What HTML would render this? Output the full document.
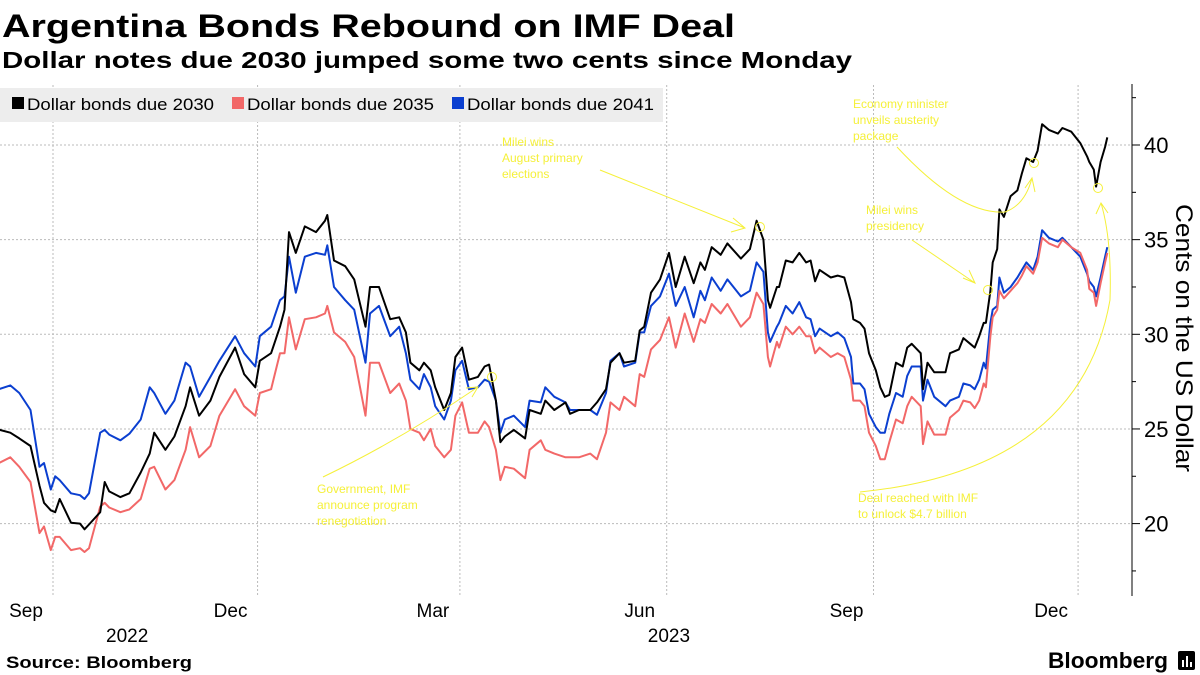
<!DOCTYPE html>
<html><head><meta charset="utf-8"><style>
html,body{margin:0;padding:0;background:#fff;}
svg{display:block;font-family:"Liberation Sans",sans-serif;}
</style></head><body>
<svg id="chart" width="1200" height="675" viewBox="0 0 1200 675">
<text x="2" y="37" font-size="32" font-weight="bold" textLength="733" lengthAdjust="spacingAndGlyphs">Argentina Bonds Rebound on IMF Deal</text>
<text x="2" y="68" font-size="23" font-weight="bold" textLength="850" lengthAdjust="spacingAndGlyphs">Dollar notes due 2030 jumped some two cents since Monday</text>
<g id="grid"></g>
<rect x="0" y="88" width="663" height="34" fill="#ededed"/>
<g><rect x="12" y="97" width="12" height="12" fill="#000"/><text x="27" y="110" font-size="17" textLength="187" lengthAdjust="spacingAndGlyphs">Dollar bonds due 2030</text></g>
<g><rect x="232" y="97" width="12" height="12" fill="#f26868"/><text x="247" y="110" font-size="17" textLength="187" lengthAdjust="spacingAndGlyphs">Dollar bonds due 2035</text></g>
<g><rect x="452" y="97" width="12" height="12" fill="#0b3fd0"/><text x="467" y="110" font-size="17" textLength="187" lengthAdjust="spacingAndGlyphs">Dollar bonds due 2041</text></g>
<g id="series"></g>
<g id="annot" fill="none" stroke="#f5f03a" stroke-width="1">
<path d="M600,170 L745,228 M733,218 L745,228 L731,232"/>
<circle cx="760" cy="227" r="4.5"/>
<path d="M323,477 Q400,440 478,387 M466,388 L478,387 L472,397"/>
<circle cx="492" cy="377" r="4.5"/>
<path d="M897,147 Q960,215 1005,212 Q1025,205 1032,178 M1025,188 L1032,178 L1035,192"/>
<circle cx="1034" cy="163" r="4.5"/>
<path d="M912,240 L975,283 M963,278 L975,283 L969,270"/>
<circle cx="988" cy="290" r="4.5"/>
<path d="M860,492 Q1080,470 1110,300 Q1112,240 1101,203 M1096,214 L1101,203 L1108,213"/>
<circle cx="1098" cy="188" r="4.5"/>
</g>
<g fill="#f5f03a" font-size="12">
<text x="502" y="146"><tspan x="502">Milei wins</tspan><tspan x="502" dy="16">August primary</tspan><tspan x="502" dy="16">elections</tspan></text>
<text x="317" y="493"><tspan x="317">Government, IMF</tspan><tspan x="317" dy="16">announce program</tspan><tspan x="317" dy="16">renegotiation</tspan></text>
<text x="853" y="108"><tspan x="853">Economy minister</tspan><tspan x="853" dy="16">unveils austerity</tspan><tspan x="853" dy="16">package</tspan></text>
<text x="866" y="214"><tspan x="866">Milei wins</tspan><tspan x="866" dy="16">presidency</tspan></text>
<text x="858" y="502"><tspan x="858">Deal reached with IMF</tspan><tspan x="858" dy="16">to unlock $4.7 billion</tspan></text>
</g>
<g id="axes"></g>
<text transform="translate(1176,338) rotate(90)" text-anchor="middle" font-size="24" textLength="268" lengthAdjust="spacingAndGlyphs">Cents on the US Dollar</text>
<text x="6" y="668" font-size="17" font-weight="bold" textLength="186" lengthAdjust="spacingAndGlyphs">Source: Bloomberg</text>
<text x="1048" y="668" font-size="22" font-weight="bold" textLength="120" lengthAdjust="spacingAndGlyphs">Bloomberg</text>
<g><rect x="1178" y="651" width="17" height="19" rx="2" fill="#000"/><rect x="1182" y="660" width="2" height="7" fill="#fff"/><rect x="1186" y="656" width="2" height="11" fill="#fff"/><rect x="1190" y="662" width="2" height="5" fill="#fff"/></g>
</svg>
<script>
// days since 2022-09-01
const days = [-24,-19,-15,-10,-6,-4,-1,1,3,8,12,14,16,21,23,25,30,34,39,43,45,50,54,59,61,65,70,74,81,85,90,92,97,101,103,105,108,112,117,121,122,125,130,134,139,141,145,150,
154,157,159,163,165,168,170,174,177,179,182,185,189,192,194,197,199,201,205,210,212,217,219,223,228,230,234,239,242,246,248,252,254,259,261,263,266,270,274,277,281,285,288,290,293,297,300,306,310,313,316,318,319,322,
323,326,329,332,335,337,339,341,346,349,352,355,356,359,361,363,366,368,370,372,375,378,380,382,386,387,389,392,397,399,403,405,408,410,412,414,415,417,418,420,421,423,426,429,431,433,436,438,440,443,447,449,453,457,460,461,463,464,466,468,469];
const bonds2030 = [24.96,24.8,24.5,24.1,22.0,21.1,20.7,20.6,21.3,20.05,20.0,19.7,19.95,20.6,22.2,21.7,21.4,21.6,22.7,23.7,24.8,23.9,24.6,26.2,27.2,25.7,26.5,27.75,29.3,27.9,27.2,28.6,29.0,30.4,31.3,35.4,34.3,35.7,35.4,36.0,36.3,33.9,33.6,32.9,30.4,32.5,32.5,30.8,
30.9,30.1,28.5,28.1,28.5,28.1,27.2,26.0,26.9,28.8,29.3,27.6,27.75,28.3,28.4,26.5,24.3,24.6,24.95,24.5,26.0,25.8,26.5,26.0,26.4,25.8,26.0,26.0,26.4,27.1,28.5,29.0,28.5,28.6,30.2,30.4,32.2,32.9,34.3,32.5,34.1,32.7,33.8,33.4,34.6,34.2,34.8,34.0,34.5,36.0,35.0,31.8,31.4,32.5,
32.5,33.9,33.8,34.3,33.8,33.9,32.8,33.4,33.0,33.1,33.0,31.7,30.8,30.6,30.3,29.0,28.1,27.2,26.7,26.8,28.5,28.3,29.3,29.5,29.0,27.1,28.5,28.0,28.0,29.0,29.2,29.8,29.5,29.3,29.9,30.6,30.6,32.3,33.8,34.5,36.6,36.2,37.3,37.6,38.5,39.3,39.1,39.7,41.1,40.8,40.6,40.9,40.7,40.1,39.4,39.1,38.7,37.8,39.1,39.9,40.4];
const bonds2035 = [23.2,23.5,23.0,22.2,19.5,19.85,18.6,19.3,19.3,18.6,18.7,18.5,18.7,20.9,21.1,20.85,20.6,20.75,21.3,22.9,23.0,21.8,22.3,23.9,25.1,23.5,24.1,25.7,27.1,26.2,25.7,26.9,27.1,29.0,29.0,30.9,29.2,30.8,30.9,31.1,31.5,30.1,29.6,28.8,25.7,28.5,28.5,26.9,
27.4,26.5,25.0,24.8,24.4,25.0,24.1,23.5,23.9,25.7,26.4,24.8,24.8,25.4,25.1,23.9,22.3,23.0,22.9,22.4,23.9,24.4,23.9,23.7,23.5,23.5,23.5,23.7,23.4,24.8,26.4,26.0,26.7,26.2,27.9,27.75,29.2,29.7,30.9,29.3,31.1,29.6,30.8,30.6,31.6,31.1,31.6,30.4,30.9,32.2,31.6,28.8,28.3,29.6,
29.3,30.4,30.0,30.4,29.9,29.9,29.0,29.3,28.8,29.0,28.8,27.6,26.5,26.5,26.2,24.8,24.1,23.4,23.4,24.3,25.5,25.3,26.2,26.7,26.2,24.2,25.4,24.7,24.7,25.6,26.0,26.5,26.4,26.1,26.5,27.4,27.2,29.9,30.9,31.3,32.3,31.9,32.3,32.7,33.1,33.6,33.2,33.8,35.1,34.8,34.6,35.0,34.6,34.3,33.4,32.4,32.2,31.5,32.7,33.8,34.3];
const bonds2041 = [27.1,27.3,26.9,26.0,23.0,23.2,21.8,22.5,22.3,21.6,21.5,21.3,21.6,24.8,24.95,24.7,24.4,24.75,25.5,27.2,26.9,25.8,26.5,28.5,28.3,26.7,27.75,28.6,29.9,29.0,28.3,29.9,30.4,31.8,32.0,34.1,32.2,34.1,34.3,34.2,34.7,32.5,31.8,31.3,28.5,31.1,31.5,29.9,
30.4,29.0,27.6,27.1,27.9,27.2,26.2,25.5,26.5,28.1,28.6,27.1,27.2,27.6,27.5,26.5,24.8,25.5,25.7,25.1,26.5,26.4,27.2,26.7,26.4,26.0,26.0,26.0,25.75,26.9,28.6,29.0,28.3,28.5,30.1,30.1,31.5,32.0,33.2,31.5,32.5,30.9,32.3,31.8,33.0,32.3,32.9,32.0,32.3,33.8,33.3,30.1,29.6,30.4,
30.6,31.5,31.1,31.7,30.9,30.8,29.9,30.3,29.9,30.1,29.8,28.8,27.4,27.4,27.1,25.8,25.1,24.8,24.8,25.8,26.9,26.7,27.8,28.3,28.3,26.5,27.6,26.7,26.2,26.5,26.7,27.4,27.3,27.1,27.6,28.5,28.2,30.6,31.3,31.5,33.0,32.2,32.5,33.0,33.4,33.8,33.4,34.1,35.5,35.1,34.9,35.1,34.6,34.1,33.2,32.8,32.5,32.0,33.0,34.1,34.6];
const yTicks = [20,25,30,35,40];
const yMinorTicks = [17.5,22.5,27.5,32.5,37.5,42.5];
const monthTickDays = [0,91,181,273,365,456];
const monthLabels = ["Sep","Dec","Mar","Jun","Sep","Dec"];
const yearLabels = ["2022","2023"];
const yearLabelDays = [33,274];

const NS="http://www.w3.org/2000/svg";
function xScale(d){return 53 + d*2.248;}
function yScale(v){return 145 + (40-v)*18.93;}
function mk(tag,attrs,parent){const e=document.createElementNS(NS,tag);for(const k in attrs)e.setAttribute(k,attrs[k]);parent.appendChild(e);return e;}

const grid=document.getElementById('grid');
yTicks.forEach(t=>{
  const l=mk('line',{x1:0,x2:1132,y1:yScale(t),y2:yScale(t),stroke:'#bbb','stroke-dasharray':'2,2'},grid);
  
  
});
monthTickDays.forEach((d,i)=>{
  const l=mk('line',{x1:xScale(d),x2:xScale(d),y1:85,y2:595,stroke:'#bbb','stroke-dasharray':'2,2'},grid);
  
  
});

const series=document.getElementById('series');
[[bonds2041,'#0b3fd0','line-2041'],[bonds2035,'#f26868','line-2035'],[bonds2030,'#000','line-2030']].forEach(([vals,col,name])=>{
  const d=vals.map((v,i)=>(i?'L':'M')+xScale(days[i]).toFixed(1)+','+yScale(v).toFixed(1)).join('');
  const p=mk('path',{d:d,fill:'none',stroke:col,'stroke-width':2,'stroke-linejoin':'round'},series);
  
  
});

const axes=document.getElementById('axes');
const ax=mk('line',{x1:1132,x2:1132,y1:84,y2:596,stroke:'#000','stroke-width':1},axes);


yTicks.forEach(t=>{
  mk('line',{x1:1132,x2:1140,y1:yScale(t),y2:yScale(t),stroke:'#000'},axes);
  const tx=mk('text',{x:1144,y:yScale(t)+8,'font-size':22},axes);
  tx.textContent=t;
  
  
});
yMinorTicks.forEach(t=>{
  mk('line',{x1:1132,x2:1136,y1:yScale(t),y2:yScale(t),stroke:'#000'},axes);
});
monthTickDays.forEach((d,i)=>{
  const tx=mk('text',{x:xScale(d)-27,y:617,'font-size':19,'text-anchor':'middle'},axes);
  tx.textContent=monthLabels[i];
  
  
});
yearLabels.forEach((y,i)=>{
  const tx=mk('text',{x:xScale(yearLabelDays[i]),y:642,'font-size':19,'text-anchor':'middle'},axes);
  tx.textContent=y;
  
  
});
</script>
</body></html>
